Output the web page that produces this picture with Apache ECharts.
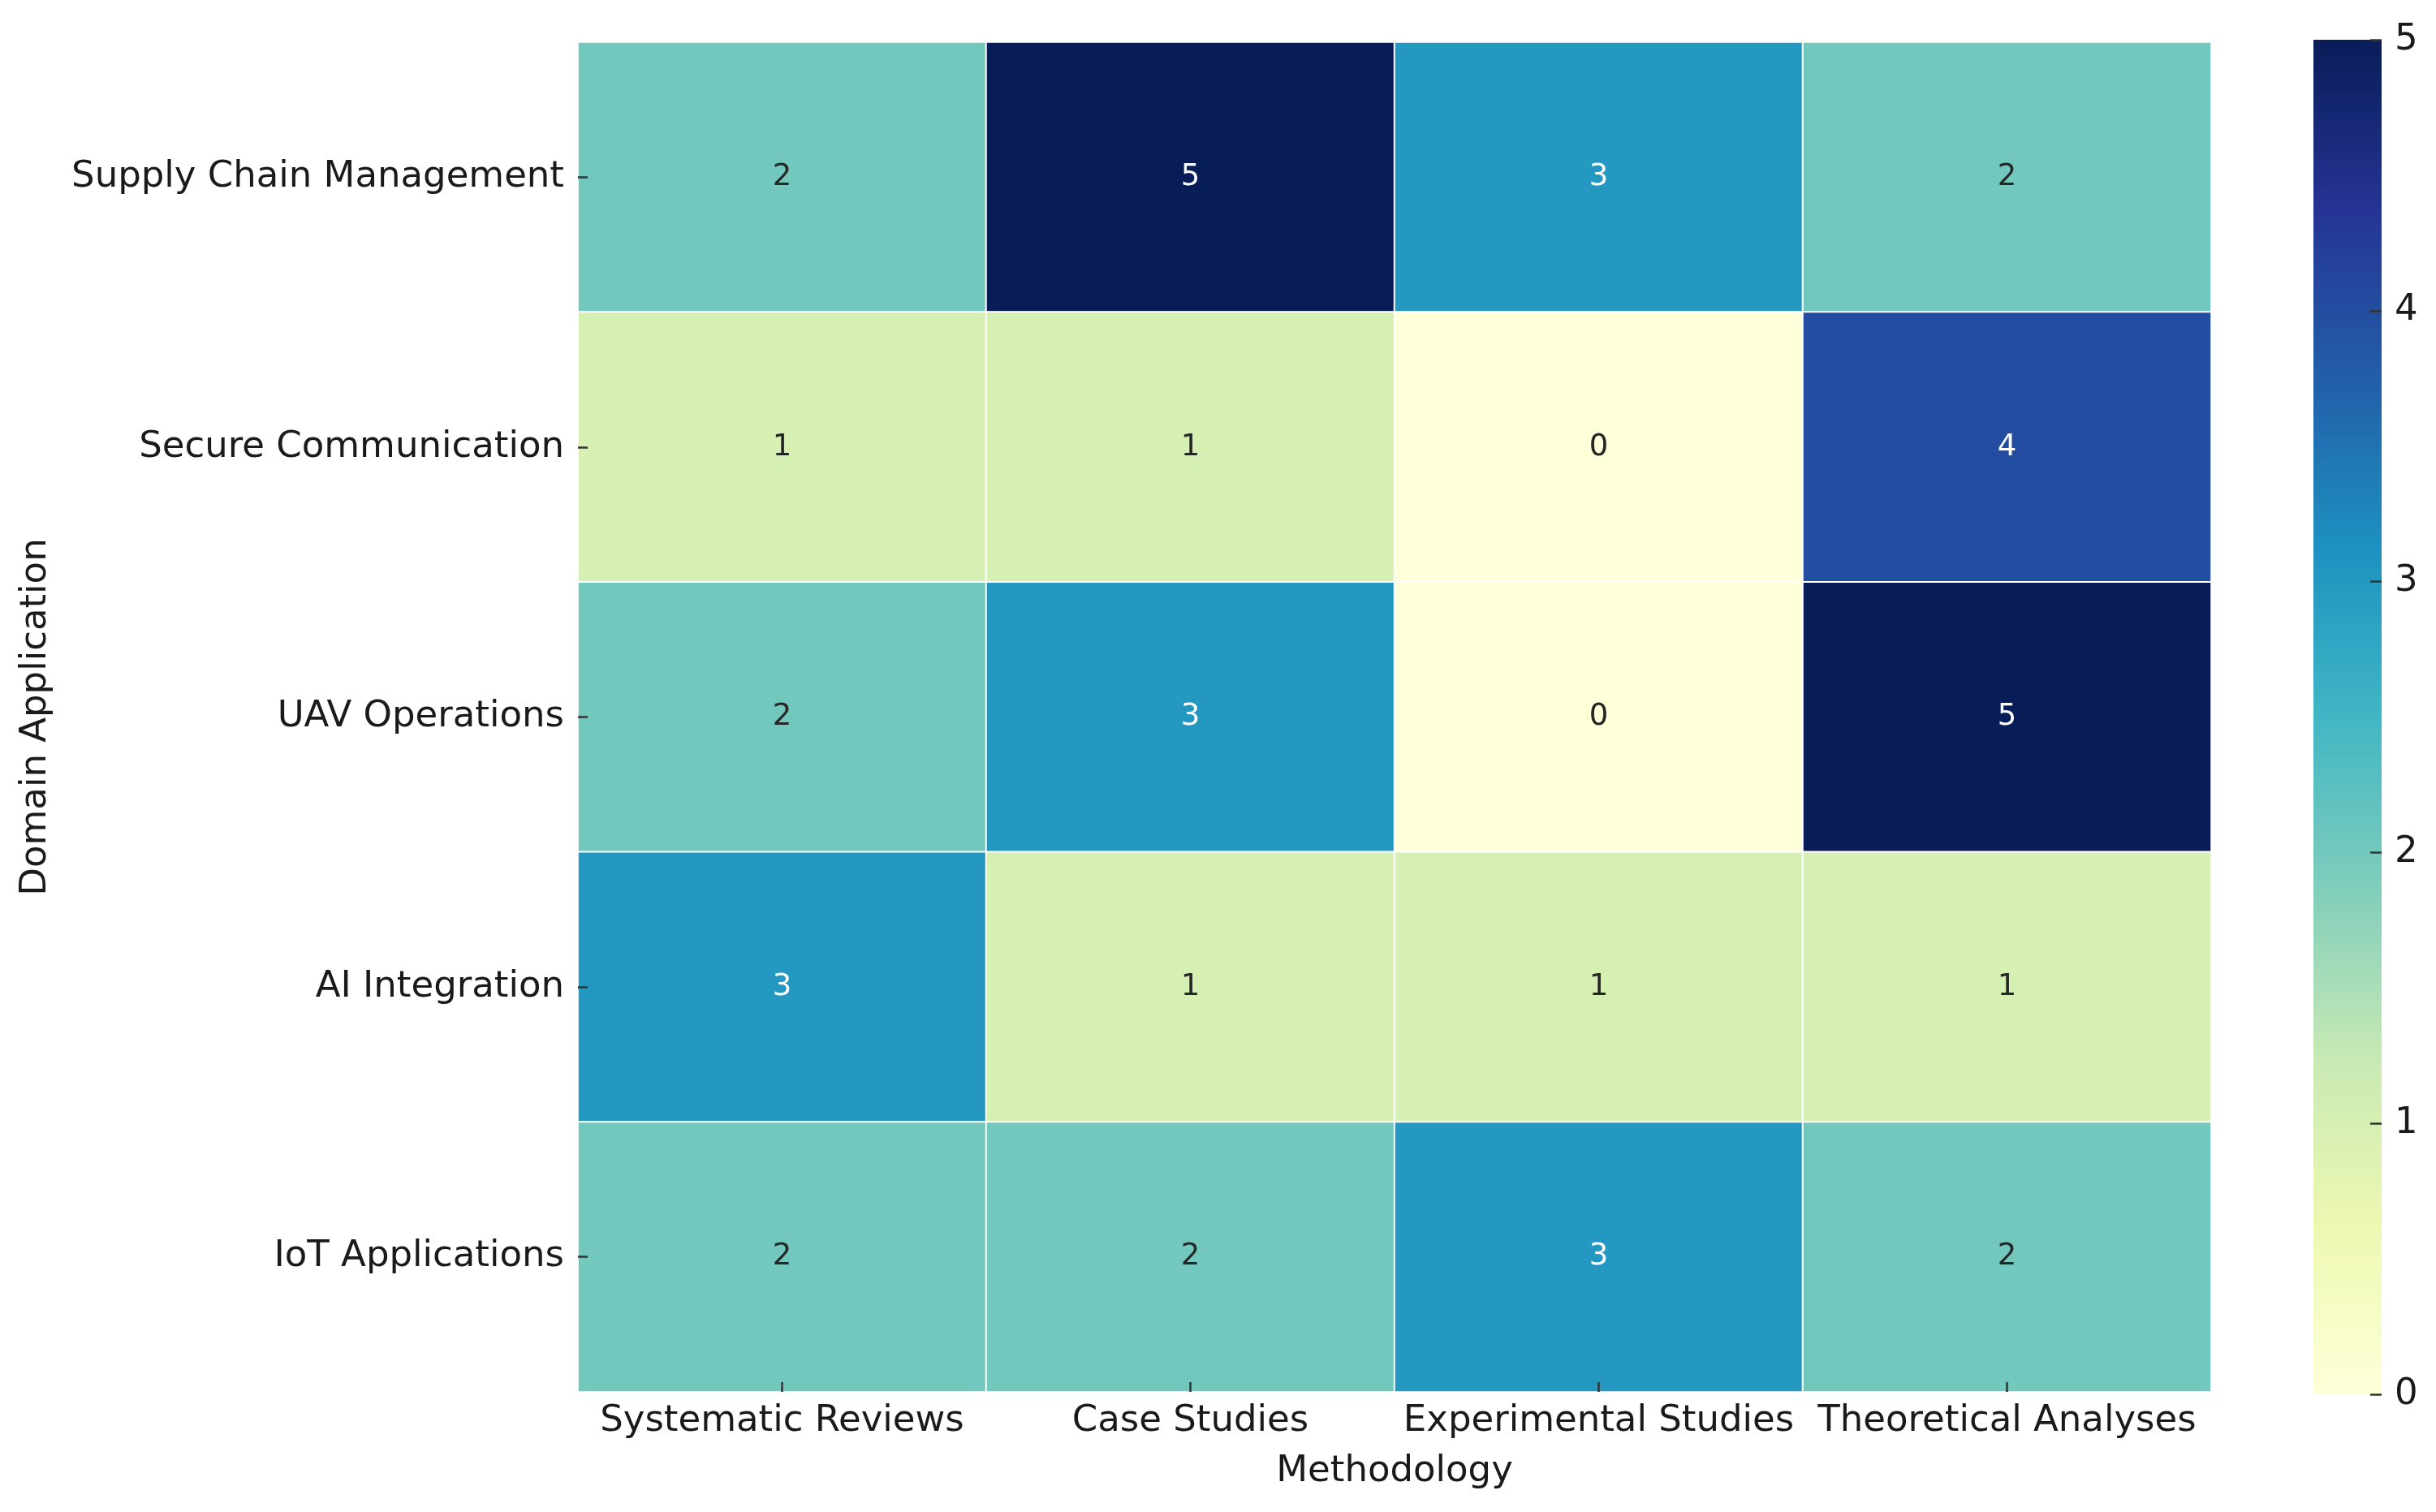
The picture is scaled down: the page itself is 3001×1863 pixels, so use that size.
<!DOCTYPE html>
<html>
<head>
<meta charset="utf-8">
<script src="https://cdn.jsdelivr.net/npm/echarts@6/dist/echarts.min.js"></script>
<style>html,body{margin:0;padding:0;background:#fff;}#c{width:3001px;height:1863px;}</style>
</head>
<body>
<div id="c"></div>
<script>
const methodologies = ['Systematic Reviews', 'Case Studies', 'Experimental Studies', 'Theoretical Analyses'];
const domains = ['Supply Chain Management', 'Secure Communication', 'UAV Operations', 'AI Integration', 'IoT Applications'];
const supplyChain = [2, 5, 3, 2];
const secureComm = [1, 1, 0, 4];
const uavOps = [2, 3, 0, 5];
const aiIntegration = [3, 1, 1, 1];
const iotApps = [2, 2, 3, 2];
const colorbarTicks = [0, 1, 2, 3, 4, 5];
const rows = [supplyChain, secureComm, uavOps, aiIntegration, iotApps];

const ylgnbu = ['#ffffd9','#edf8b1','#c7e9b4','#7fcdbb','#41b6c4','#1d91c0','#225ea8','#253494','#081d58'];
const vmin = colorbarTicks[0], vmax = colorbarTicks[colorbarTicks.length - 1];

const cells = [];
rows.forEach((row, r) => {
  row.forEach((v, c) => {
    cells.push({
      value: [c, r, v],
      label: { color: v >= 2.6 ? '#ffffff' : '#262626' }
    });
  });
});

const font = 'DejaVu Sans';
const chart = echarts.init(document.getElementById('c'), null, { renderer: 'canvas' });
chart.setOption({
  backgroundColor: '#ffffff',
  animation: false,
  textStyle: { fontFamily: font },
  grid: [
    { left: 712, top: 52, width: 2012, height: 1663 },
    { left: 2850, top: 49, width: 84, height: 1669 }
  ],
  xAxis: [
    {
      type: 'category', gridIndex: 0, data: methodologies, position: 'bottom', z: 5,
      axisLine: { show: false },
      axisTick: { show: true, alignWithLabel: true, inside: true, length: 12, lineStyle: { color: '#333', width: 2.5 } },
      axisLabel: { fontSize: 45, color: '#1a1a1a', margin: 14, fontFamily: font, interval: 0 },
      splitLine: { show: false },
      name: 'Methodology', nameLocation: 'middle', nameGap: 76,
      nameTextStyle: { fontSize: 45, color: '#1a1a1a', fontFamily: font }
    },
    {
      type: 'category', gridIndex: 1, data: [''], show: false
    }
  ],
  yAxis: [
    {
      type: 'category', gridIndex: 0, data: domains, inverse: true, z: 5,
      axisLine: { show: false },
      axisTick: { show: true, alignWithLabel: true, inside: true, length: 12, lineStyle: { color: '#333', width: 2.5 } },
      axisLabel: { fontSize: 45, color: '#1a1a1a', margin: 17, fontFamily: font },
      splitLine: { show: false },
      name: 'Domain Application', nameLocation: 'middle', nameGap: 645, nameRotate: 90,
      nameTextStyle: { fontSize: 45, color: '#1a1a1a', fontFamily: font }
    },
    {
      type: 'value', gridIndex: 1, min: vmin, max: vmax, interval: 1, position: 'right', z: 5,
      axisLine: { show: false },
      axisTick: { show: true, inside: true, length: 14, lineStyle: { color: '#333', width: 2.5 } },
      axisLabel: { fontSize: 45, color: '#1a1a1a', margin: 16, fontFamily: font },
      splitLine: { show: false }
    }
  ],
  visualMap: {
    show: false, type: 'continuous', min: vmin, max: vmax, seriesIndex: 0, dimension: 2,
    inRange: { color: ylgnbu }
  },
  series: [
    {
      type: 'heatmap', xAxisIndex: 0, yAxisIndex: 0, data: cells,
      itemStyle: { borderColor: '#ffffff', borderWidth: 2 },
      label: { show: true, fontSize: 37, fontFamily: font },
      emphasis: { disabled: true }
    },
    {
      type: 'bar', xAxisIndex: 1, yAxisIndex: 1, data: [vmax], barWidth: '100%',
      itemStyle: {
        color: new echarts.graphic.LinearGradient(0, 0, 0, 1,
          ylgnbu.slice().reverse().map((c, i, a) => ({ offset: i / (a.length - 1), color: c })))
      },
      silent: true
    }
  ]
});
</script>
</body>
</html>
